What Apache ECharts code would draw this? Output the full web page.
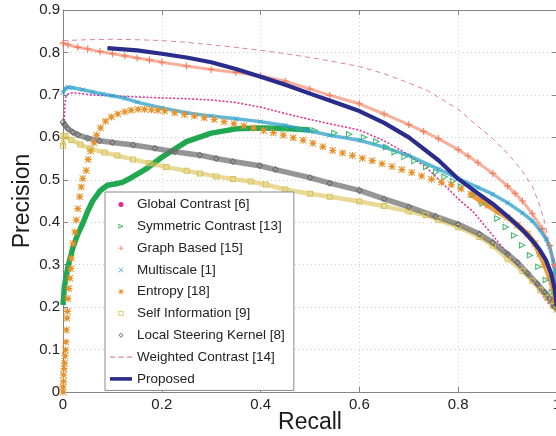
<!DOCTYPE html>
<html><head><meta charset="utf-8">
<script src="https://cdn.jsdelivr.net/npm/echarts@6/dist/echarts.min.js"></script>
<style>html,body{margin:0;padding:0;background:#fff}#c{width:556px;height:436px}</style>
</head><body><div id="c"></div>
<script>
// ---------- data: [recall, precision] ----------
const xTicks = [0, 0.2, 0.4, 0.6, 0.8, 1];
const yTicks = [0, 0.1, 0.2, 0.3, 0.4, 0.5, 0.6, 0.7, 0.8, 0.9];

const legendNames = ['Global Contrast [6]', 'Symmetric Contrast [13]', 'Graph Based [15]', 'Multiscale [1]',
  'Entropy [18]', 'Self Information [9]', 'Local Steering Kernel [8]', 'Weighted Contrast [14]', 'Proposed'];

const globalContrast = [[0.002,0.63],[0.003,0.66],[0.004,0.68],[0.006,0.695],[0.01,0.702],[0.02,0.705],[0.03,0.704],
  [0.05,0.701],[0.07,0.699],[0.1,0.698],[0.15,0.695],[0.2,0.693],[0.25,0.691],[0.3,0.688],[0.35,0.682],[0.4,0.671],
  [0.45,0.656],[0.5,0.642],[0.54,0.632],[0.6,0.617],[0.65,0.592],[0.7,0.559],[0.74,0.524],[0.8,0.455],[0.83,0.425],
  [0.87,0.369],[0.91,0.311],[0.95,0.264],[0.978,0.216],[0.99,0.198]];

const symmetricBand = [[0,0.205],[0.003,0.25],[0.01,0.295],[0.02,0.34],[0.03,0.372],[0.04,0.397],[0.05,0.426],
  [0.06,0.45],[0.075,0.474],[0.09,0.487],[0.105,0.49],[0.12,0.494],[0.14,0.506],[0.17,0.527],[0.2,0.553],[0.25,0.59],
  [0.3,0.61],[0.35,0.62],[0.4,0.622],[0.45,0.621],[0.5,0.617]];
const symmetricMarks = [[0.42,0.622],[0.45,0.621],[0.48,0.619],[0.51,0.616],[0.55,0.61],[0.58,0.607],[0.61,0.6],[0.635,0.59],
  [0.655,0.577],[0.672,0.565],[0.692,0.554],[0.712,0.544],[0.736,0.53],[0.756,0.518],[0.773,0.507],[0.79,0.497],
  [0.806,0.484],[0.83,0.464],[0.85,0.444],[0.88,0.409],[0.897,0.389],[0.914,0.369],[0.93,0.346],[0.946,0.322],
  [0.963,0.295],[0.978,0.264],[0.99,0.235]];

const graphBased = [[0,0.822],[0.01,0.818],[0.03,0.812],[0.05,0.808],[0.075,0.802],[0.1,0.797],[0.125,0.792],
  [0.15,0.787],[0.175,0.782],[0.2,0.777],[0.25,0.768],[0.3,0.76],[0.35,0.753],[0.4,0.745],[0.45,0.732],[0.5,0.714],
  [0.54,0.699],[0.6,0.679],[0.65,0.655],[0.7,0.63],[0.73,0.614],[0.76,0.597],[0.8,0.571],[0.82,0.556],[0.84,0.54],
  [0.87,0.515],[0.9,0.485],[0.915,0.468],[0.93,0.45],[0.95,0.42],[0.97,0.385],[0.985,0.345],[0.995,0.3],[1.0,0.2]];

const multiscale = [[0,0.705],[0.005,0.715],[0.01,0.718],[0.02,0.717],[0.04,0.712],[0.06,0.707],[0.08,0.702],
  [0.1,0.698],[0.125,0.692],[0.15,0.683],[0.2,0.669],[0.25,0.658],[0.3,0.65],[0.35,0.644],[0.4,0.637],[0.45,0.628],
  [0.5,0.615],[0.54,0.605],[0.6,0.593],[0.65,0.577],[0.7,0.557],[0.76,0.525],[0.8,0.503],[0.84,0.482],[0.87,0.466],
  [0.9,0.446],[0.93,0.422],[0.95,0.403],[0.966,0.381],[0.978,0.36],[0.985,0.342],[0.992,0.31],[0.996,0.28],[1.0,0.2]];

const entropyMarks = [[0,0],[0,0.012],[0.001,0.025],[0.001,0.04],[0.002,0.055],[0.003,0.068],[0.004,0.085],
  [0.005,0.099],[0.006,0.118],[0.007,0.146],[0.008,0.174],[0.009,0.19],[0.01,0.22],[0.012,0.244],[0.014,0.268],
  [0.016,0.291],[0.017,0.315],[0.02,0.35],[0.024,0.377],[0.027,0.405],[0.03,0.432],[0.034,0.46],[0.037,0.483],
  [0.04,0.503],[0.047,0.522],[0.051,0.548],[0.056,0.568],[0.063,0.587],[0.068,0.605],[0.076,0.622],[0.086,0.638],
  [0.098,0.648],[0.111,0.655],[0.125,0.66],[0.138,0.664],[0.152,0.666],[0.165,0.666],[0.179,0.665],[0.192,0.664],
  [0.206,0.662],[0.226,0.658],[0.246,0.654],[0.266,0.65],[0.286,0.646],[0.306,0.642],[0.326,0.637],[0.346,0.632],
  [0.366,0.627],[0.386,0.622],[0.406,0.616],[0.426,0.611],[0.446,0.605],[0.466,0.599],[0.486,0.593],[0.506,0.586],
  [0.526,0.578],[0.546,0.569],[0.566,0.563],[0.586,0.557],[0.606,0.551],[0.626,0.545],[0.646,0.538],[0.666,0.531],
  [0.686,0.524],[0.706,0.517],[0.726,0.509],[0.746,0.501],[0.766,0.494],[0.786,0.488],[0.806,0.479],[0.826,0.466]];
const entropyBand = [[0.826,0.466],[0.846,0.45],[0.86,0.44],[0.88,0.425],[0.9,0.412],[0.92,0.393],[0.94,0.372],
  [0.955,0.35],[0.965,0.326],[0.975,0.3],[0.985,0.271],[0.992,0.245],[0.996,0.216],[1.0,0.195]];

const selfInformation = [[0,0.58],[0.001,0.603],[0.005,0.603],[0.017,0.594],[0.035,0.583],[0.055,0.573],[0.084,0.564],
  [0.11,0.557],[0.142,0.548],[0.175,0.539],[0.209,0.53],[0.25,0.521],[0.277,0.515],[0.31,0.508],[0.344,0.502],
  [0.38,0.496],[0.41,0.489],[0.45,0.477],[0.5,0.467],[0.54,0.46],[0.6,0.449],[0.65,0.438],[0.7,0.425],[0.734,0.417],
  [0.76,0.405],[0.8,0.389],[0.843,0.365],[0.87,0.345],[0.9,0.314],[0.93,0.285],[0.95,0.262],[0.966,0.24],
  [0.98,0.222],[0.992,0.203],[1.0,0.195]];

const localSteering = [[0,0.636],[0.003,0.63],[0.01,0.62],[0.02,0.612],[0.03,0.606],[0.05,0.598],[0.074,0.592],
  [0.1,0.588],[0.142,0.582],[0.186,0.574],[0.226,0.566],[0.277,0.558],[0.31,0.55],[0.344,0.543],[0.398,0.533],
  [0.43,0.524],[0.5,0.505],[0.54,0.492],[0.6,0.475],[0.65,0.455],[0.7,0.436],[0.754,0.414],[0.8,0.395],[0.843,0.372],
  [0.87,0.352],[0.9,0.325],[0.92,0.305],[0.94,0.28],[0.96,0.255],[0.975,0.235],[0.985,0.22],[0.995,0.2]];

const weightedContrast = [[0,0.828],[0.05,0.83],[0.1,0.831],[0.15,0.83],[0.2,0.828],[0.25,0.824],[0.3,0.818],
  [0.35,0.812],[0.4,0.805],[0.45,0.797],[0.5,0.788],[0.55,0.778],[0.6,0.767],[0.65,0.75],[0.7,0.728],[0.74,0.709],
  [0.8,0.666],[0.84,0.626],[0.87,0.597],[0.9,0.562],[0.93,0.52],[0.95,0.485],[0.965,0.44],[0.975,0.4],[0.985,0.345],
  [0.993,0.28],[1.0,0.2]];

const proposed = [[0.09,0.81],[0.15,0.805],[0.2,0.797],[0.25,0.788],[0.3,0.777],[0.35,0.761],[0.4,0.743],
  [0.45,0.724],[0.5,0.703],[0.54,0.687],[0.6,0.662],[0.65,0.634],[0.7,0.6],[0.76,0.546],[0.8,0.502],[0.84,0.468],
  [0.87,0.443],[0.9,0.414],[0.93,0.382],[0.95,0.357],[0.965,0.335],[0.978,0.31],[0.988,0.28],[0.995,0.245],[1.0,0.2]];

// ---------- styling ----------
const FONT = '"Liberation Sans", Arial, Helvetica, sans-serif';
const C = {
  global: '#ec2390', sym: '#1fa84f', graph: '#f47c5c', multi: '#2b9fcb', entropy: '#e8922c',
  self: '#d8bf52', local: '#6a6a6a', weighted: '#e0809c', proposed: '#2a2c8c'
};
const SYM_PLUS = 'path://M4.2,0h1.6v10h-1.6z M0,4.2h10v1.6h-10z';
const SYM_STAR = 'path://M4.2,0h1.6v10h-1.6z M0,4.2h10v1.6h-10z M1,0L10,9L9,10L0,1Z M9,0L10,1L1,10L0,9Z M2.2,2.2h5.6v5.6h-5.6z';
const SYM_SQUARE = 'path://M0,0h10v10h-10z M1.6,1.6v6.8h6.8v-6.8z';
const SYM_DIAMOND = 'path://M5,0L10,5L5,10L0,5Z M5,2L2,5L5,8L8,5Z';
const SYM_TRI = 'path://M0,0L10,5L0,10Z M1.4,2.4L1.4,7.6L6.8,5Z';
const SYM_X = 'path://M0.8,0L10,9.2L9.2,10L0,0.8Z M9.2,0L10,0.8L0.8,10L0,9.2Z';
const ICON_DASH = 'path://M0,0h5v1.3h-5z M8.5,0h5v1.3h-5z M17,0h5v1.3h-5z';
const ICON_THICK = 'path://M0,0h22v3.6h-22z';

function lineSeries(name, data, o) {
  return {
    type: 'line', name, data, z: o.z || 2,
    symbol: o.symbol || 'none', symbolSize: o.size || 6, symbolRotate: o.rotate || 0,
    showSymbol: !!o.symbol, showAllSymbol: true, smooth: false, clip: true,
    itemStyle: { color: o.mcolor || o.color, borderWidth: 0, opacity: o.mopacity == null ? 1 : o.mopacity },
    lineStyle: { color: o.color, width: o.width, opacity: o.lopacity == null ? 1 : o.lopacity, type: o.type || 'solid', cap: 'butt' },
    emphasis: { disabled: true }, animation: false
  };
}

const series = [
  lineSeries(legendNames[0], globalContrast, { color: C.global, width: 1.5, type: [2, 1.8] }),
  lineSeries(legendNames[1], symmetricBand, { color: C.sym, width: 5.5 }),
  lineSeries(legendNames[1], symmetricMarks, { color: C.sym, width: 0, lopacity: 0, symbol: SYM_TRI, size: 7, mcolor: '#3cb86a' }),
  lineSeries(legendNames[2], graphBased, { color: C.graph, width: 3, lopacity: 0.6, symbol: SYM_PLUS, size: 7 }),
  lineSeries(legendNames[3], multiscale, { color: C.multi, width: 3.5, lopacity: 0.75, symbol: SYM_X, size: 5 }),
  lineSeries(legendNames[4], entropyMarks, { color: C.entropy, width: 0, lopacity: 0, symbol: SYM_STAR, size: 7 }),
  lineSeries(legendNames[4], entropyBand, { color: C.entropy, width: 5.5, lopacity: 0.85, symbol: SYM_STAR, size: 7 }),
  lineSeries(legendNames[5], selfInformation, { color: C.self, width: 4.5, lopacity: 0.6, symbol: SYM_SQUARE, size: 6 }),
  lineSeries(legendNames[6], localSteering, { color: C.local, width: 5.5, lopacity: 0.7, symbol: SYM_DIAMOND, size: 7 }),
  lineSeries(legendNames[7], weightedContrast, { color: C.weighted, width: 1, type: [5, 4] }),
  lineSeries(legendNames[8], proposed, { color: C.proposed, width: 4.2, z: 3 })
];

const legendIcons = ['circle', SYM_TRI, SYM_PLUS, SYM_X, SYM_STAR, SYM_SQUARE, SYM_DIAMOND, ICON_DASH, ICON_THICK];

const axisLineStyle = { color: '#858585', width: 1 };
const option = {
  backgroundColor: '#fff',
  animation: false,
  grid: { left: 63, top: 10, width: 494, height: 382, outerBoundsMode: 'none', containLabel: false },
  xAxis: [{
    type: 'value', min: 0, max: 1, interval: 0.2,
    name: 'Recall', nameLocation: 'middle', nameGap: 19, nameMoveOverlap: false,
    nameTextStyle: { fontFamily: FONT, fontSize: 23, color: '#1a1a1a' },
    axisLine: { show: true, onZero: false, lineStyle: axisLineStyle },
    axisTick: { show: true, inside: true, length: 5, lineStyle: axisLineStyle },
    axisLabel: { margin: 5, fontFamily: FONT, fontSize: 15, color: '#222', showMaxLabel: true, showMinLabel: true },
    splitLine: { show: true, lineStyle: { color: '#cdcdcd', width: 1, type: [1, 3] } }
  }, {
    type: 'value', min: 0, max: 1, interval: 0.2, position: 'top',
    axisLine: { show: true, onZero: false, lineStyle: axisLineStyle },
    axisTick: { show: true, inside: true, length: 5, lineStyle: axisLineStyle },
    axisLabel: { show: false }, splitLine: { show: false }
  }],
  yAxis: [{
    type: 'value', min: 0, max: 0.9, interval: 0.1,
    name: 'Precision', nameLocation: 'middle', nameGap: 29, nameRotate: 90, nameMoveOverlap: false,
    nameTextStyle: { fontFamily: FONT, fontSize: 23, color: '#1a1a1a' },
    axisLine: { show: true, onZero: false, lineStyle: axisLineStyle },
    axisTick: { show: true, inside: true, length: 5, lineStyle: axisLineStyle },
    axisLabel: { margin: 3, fontFamily: FONT, fontSize: 15, color: '#222' },
    splitLine: { show: true, lineStyle: { color: '#cdcdcd', width: 1, type: [1, 3] } }
  }, {
    type: 'value', min: 0, max: 0.9, interval: 0.1, position: 'right',
    axisLine: { show: true, onZero: false, lineStyle: axisLineStyle },
    axisTick: { show: true, inside: true, length: 5, lineStyle: axisLineStyle },
    axisLabel: { show: false }, splitLine: { show: false }
  }],
  legend: {
    orient: 'vertical', left: 105, top: 192,
    padding: [5, 9, 4, 5], itemGap: 6.8, itemWidth: 22, itemHeight: 5,
    backgroundColor: '#fff', borderColor: '#8a8a8a', borderWidth: 1, borderRadius: 0,
    selectedMode: false,
    textStyle: { fontFamily: FONT, fontSize: 13.5, color: '#222', lineHeight: 15 },
    itemStyle: { borderWidth: 0 },
    data: legendNames.map((n, i) => ({ name: n, icon: legendIcons[i], itemStyle: { borderWidth: 0 } }))
  },
  series
};

const chart = echarts.init(document.getElementById('c'), null, { renderer: 'canvas', width: 556, height: 436 });
chart.setOption(option);
</script>
</body></html>
